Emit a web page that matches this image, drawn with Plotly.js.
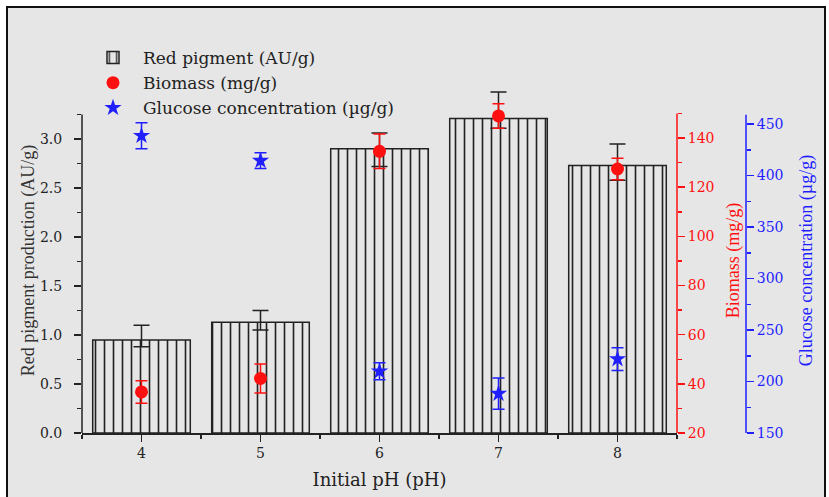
<!DOCTYPE html>
<html>
<head>
<meta charset="utf-8">
<script src="https://cdn.plot.ly/plotly-3.0.1.min.js"></script>
<style>html,body{margin:0;padding:0;background:#fff;}#chart{width:829px;height:497px;}</style>
</head>
<body>
<div id="chart"></div>
<script>
// ---- data ----
const phValues = [4, 5, 6, 7, 8];
const pigment = [0.95, 1.13, 2.90, 3.21, 2.73];
const pigmentErrPlus = [0.15, 0.12, 0.16, 0.27, 0.22];
const pigmentErrMinus = [0.07, 0.08, 0.18, 0.10, 0.15];
const biomass = [36.7, 42.2, 134.6, 149.0, 127.4];
const biomassErr = [4.6, 5.9, 7.0, 5.0, 4.4];
const glucose = [438.6, 414.4, 209.9, 188.2, 221.8];
const glucoseErr = [12.6, 7.7, 8.3, 15.2, 11.0];

// ---- tick labels ----
const xTickVals = [4, 5, 6, 7, 8];
const xTickText = ['4', '5', '6', '7', '8'];
const pigmentTicks = [0, 0.5, 1.0, 1.5, 2.0, 2.5, 3.0];
const pigmentTickText = ['0.0', '0.5', '1.0', '1.5', '2.0', '2.5', '3.0'];
const pigmentMinor = [0.25, 0.75, 1.25, 1.75, 2.25, 2.75, 3.25];
const biomassTicks = [20, 40, 60, 80, 100, 120, 140];
const biomassMinor = [30, 50, 70, 90, 110, 130, 150];
const glucoseTicks = [150, 200, 250, 300, 350, 400, 450];
const glucoseMinor = [175, 225, 275, 325, 375, 425];

// axis extents actually drawn (axis lines)
const pigmentAxisSpan = [0, 3.25];
const biomassAxisSpan = [20, 150];
const glucoseAxisSpan = [150, 459];

const SERIF = '"Liberation Serif", "Times New Roman", serif';
const WIDE = '"DejaVu Serif", "Liberation Serif", serif';
const BG = '#e6e6e6';
const INK = '#222222';
const RED = '#ff1010';
const BLUE = '#1f1fff';

const traces = [
  {
    type: 'bar',
    name: 'Red pigment (AU/g)',
    x: phValues,
    y: pigment,
    width: 0.82,
    marker: {
      color: BG,
      line: {color: INK, width: 1.5},
      pattern: {shape: '|', fgcolor: INK, bgcolor: BG, size: 9, solidity: 0.18}
    },
    error_y: {type: 'data', symmetric: false, array: pigmentErrPlus, arrayminus: pigmentErrMinus,
              color: INK, thickness: 1.5, width: 8}
  },
  {
    type: 'scatter',
    mode: 'markers',
    name: 'Biomass (mg/g)',
    x: phValues,
    y: biomass,
    yaxis: 'y2',
    marker: {symbol: 'circle', size: 13, color: RED},
    error_y: {type: 'data', array: biomassErr, color: RED, thickness: 1.5, width: 6}
  },
  {
    type: 'scatter',
    mode: 'markers',
    name: 'Glucose concentration (µg/g)',
    x: phValues,
    y: glucose,
    yaxis: 'y3',
    marker: {symbol: 'star', size: 13, color: BLUE},
    error_y: {type: 'data', array: glucoseErr, color: BLUE, thickness: 1.5, width: 6}
  }
];

const ML = 82, MR = 69, MT = 88, MB = 64;
const plotW = 829 - ML - MR;
const plotH = 497 - MT - MB;
const xEnd = 595 / plotW;
const gluPos = (746 - ML) / plotW;
const px2py = (py) => (497 - MB - py) / plotH;
const px2px = (px) => (px - ML) / plotW;

const layout = {
  width: 829,
  height: 497,
  margin: {l: ML, r: MR, t: MT, b: MB},
  paper_bgcolor: '#ffffff',
  plot_bgcolor: 'rgba(0,0,0,0)',
  font: {family: SERIF, color: INK, size: 15},
  showlegend: true,
  legend: {
    x: px2px(83), y: px2py(40), xanchor: 'left', yanchor: 'top',
    bgcolor: 'rgba(0,0,0,0)',
    font: {family: WIDE, size: 17, color: INK},
    tracegroupgap: 0,
    itemwidth: 50,
    traceorder: 'normal'
  },
  xaxis: {
    domain: [0, xEnd],
    range: [3.5, 8.5],
    tickmode: 'array', tickvals: xTickVals, ticktext: xTickText,
    ticks: 'outside', ticklen: 7, tickwidth: 1.5, tickcolor: INK,
    minor: {dtick: 0.5, tick0: 0, ticks: 'outside', ticklen: 4, tickwidth: 1.5, tickcolor: INK},
    showline: true, linecolor: INK, linewidth: 1.5,
    showgrid: false, zeroline: false,
    tickfont: {family: WIDE, size: 14, color: INK},
    title: {text: 'Initial pH (pH)', font: {family: WIDE, size: 18, color: INK}, standoff: 13}
  },
  yaxis: {
    range: [0, (433 - MT) / 98],
    tickmode: 'array', tickvals: pigmentTicks, ticktext: pigmentTickText,
    ticks: 'outside', ticklen: 7, tickwidth: 1.5, tickcolor: INK,
    minor: {tickmode: 'array', tickvals: pigmentMinor, ticks: 'outside', ticklen: 4, tickwidth: 1.5, tickcolor: INK},
    showline: false,
    showgrid: false, zeroline: false,
    ticklabelstandoff: 9,
    tickfont: {family: WIDE, size: 14, color: INK},
    title: {text: 'Red pigment production (AU/g)', font: {family: SERIF, size: 18, color: '#333333'}, standoff: 0}
  },
  yaxis2: {
    overlaying: 'y', side: 'right', anchor: 'x',
    range: [20, 20 + (433 - MT) / 2.458],
    tickmode: 'array', tickvals: biomassTicks,
    ticks: 'outside', ticklen: 7, tickwidth: 1.5, tickcolor: RED,
    minor: {tickmode: 'array', tickvals: biomassMinor, ticks: 'outside', ticklen: 4, tickwidth: 1.5, tickcolor: RED},
    showline: false,
    showgrid: false, zeroline: false,
    tickfont: {family: WIDE, size: 14, color: RED},
    title: {text: 'Biomass (mg/g)', font: {family: SERIF, size: 18, color: RED}, standoff: 12}
  },
  yaxis3: {
    overlaying: 'y', side: 'right', anchor: 'free',
    position: gluPos,
    range: [150, 150 + (433 - MT) / 1.03],
    tickmode: 'array', tickvals: glucoseTicks,
    ticks: 'outside', ticklen: 7, tickwidth: 1.5, tickcolor: BLUE,
    minor: {tickmode: 'array', tickvals: glucoseMinor, ticks: 'outside', ticklen: 4, tickwidth: 1.5, tickcolor: BLUE},
    showline: false,
    showgrid: false, zeroline: false,
    tickfont: {family: WIDE, size: 14, color: BLUE},
    title: {text: 'Glucose concentration (µg/g)', font: {family: SERIF, size: 18, color: BLUE}, standoff: 16}
  },
  shapes: [
    {
      type: 'rect', xref: 'paper', yref: 'paper', layer: 'below',
      x0: px2px(7), x1: px2px(825),
      y0: px2py(505), y1: px2py(7),
      fillcolor: BG, line: {color: '#111111', width: 2}
    },
    {type: 'line', xref: 'paper', yref: 'y', x0: 0, x1: 0,
     y0: pigmentAxisSpan[0], y1: pigmentAxisSpan[1], line: {color: INK, width: 1.5}},
    {type: 'line', xref: 'paper', yref: 'y2', x0: xEnd, x1: xEnd,
     y0: biomassAxisSpan[0], y1: biomassAxisSpan[1], line: {color: RED, width: 1.5}},
    {type: 'line', xref: 'paper', yref: 'y3', x0: gluPos, x1: gluPos,
     y0: glucoseAxisSpan[0], y1: glucoseAxisSpan[1], line: {color: BLUE, width: 1.5}}
  ]
};

Plotly.newPlot('chart', traces, layout, {displayModeBar: false, staticPlot: true});
</script>
</body>
</html>
